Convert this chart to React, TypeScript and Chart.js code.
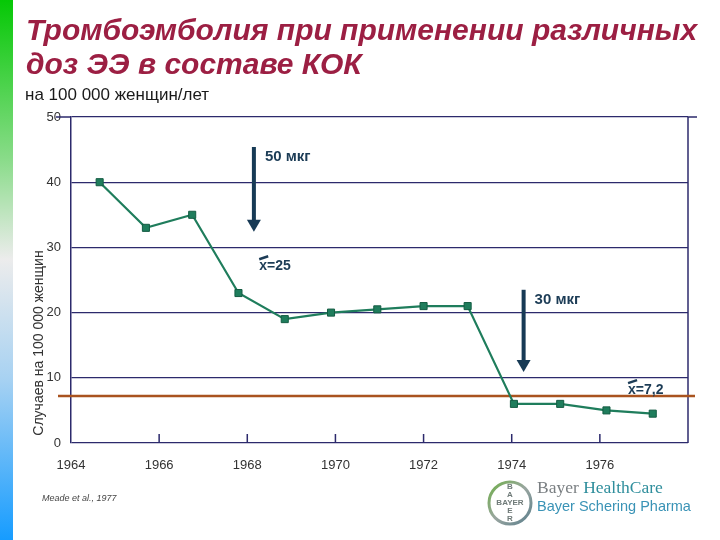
import React, { useEffect, useRef } from "react";
import { Chart, registerables } from "chart.js";

Chart.register(...registerables);

// ---- data ----
const years = [1964.65, 1965.7, 1966.75, 1967.8, 1968.85, 1969.9, 1970.95, 1972.0, 1973.0, 1974.05, 1975.1, 1976.15, 1977.2];
const cases = [40, 33, 35, 23, 19, 20, 20.5, 21, 21, 6, 6, 5, 4.5];
const xTickYears = [1964, 1966, 1968, 1970, 1972, 1974, 1976];
const yTicks = [0, 10, 20, 30, 40, 50];
const meanLevel = 7.2;
const doseLabels = ["50 мкг", "30 мкг"];
const doseYears = [1968.15, 1974.27];
const doseFrom = [45.4, 23.5];
const doseTo = [32.4, 10.9];
const meanLabels = ["x=25", "x=7,2"];
const meanLabelYears = [1968.27, 1976.64];
const meanLabelValues = [27.1, 8.1];

const titleLines = ["Тромбоэмболия при применении различных", "доз ЭЭ в составе КОК"];
const subtitle = "на 100 000 женщин/лет";
const yTitle = "Случаев на 100 000 женщин";
const citation = "Meade et al., 1977";

const NAVY = "#2c2a6c";
const ARROW = "#173a55";
const FONT = "'Liberation Sans', Arial, sans-serif";

const decorPlugin = {
  id: "decor",
  beforeDatasetsDraw(chart: any) {
    const { ctx, chartArea, scales } = chart;
    const xs = scales.x, ys = scales.y;
    ctx.save();
    ctx.strokeStyle = NAVY;
    ctx.lineWidth = 1.5;
    ctx.beginPath();
    ctx.moveTo(chartArea.right, chartArea.top);
    ctx.lineTo(chartArea.right, chartArea.bottom);
    ctx.stroke();
    const yTop = ys.getPixelForValue(50);
    ctx.beginPath();
    ctx.moveTo(chartArea.left - 15, yTop);
    ctx.lineTo(chartArea.left, yTop);
    ctx.moveTo(chartArea.right, yTop);
    ctx.lineTo(chartArea.right + 9, yTop);
    ctx.stroke();
    ctx.beginPath();
    xTickYears.slice(1).forEach((v) => {
      const px = xs.getPixelForValue(v);
      ctx.moveTo(px, chartArea.bottom);
      ctx.lineTo(px, chartArea.bottom - 9);
    });
    ctx.stroke();
    const ym = ys.getPixelForValue(meanLevel);
    ctx.strokeStyle = "#a9531f";
    ctx.lineWidth = 2.5;
    ctx.beginPath();
    ctx.moveTo(chartArea.left - 13, ym);
    ctx.lineTo(chartArea.right + 7, ym);
    ctx.stroke();
    ctx.restore();
  },
  afterDraw(chart: any) {
    const { ctx, scales } = chart;
    const xs = scales.x, ys = scales.y;
    ctx.save();
    const g = ctx.createLinearGradient(0, 0, 0, 540);
    g.addColorStop(0, "#05c805");
    g.addColorStop(0.3, "#8cdc8c");
    g.addColorStop(0.48, "#ececec");
    g.addColorStop(0.7, "#a8d2f2");
    g.addColorStop(1, "#169cff");
    ctx.fillStyle = g;
    ctx.fillRect(0, 0, 13, 540);

    ctx.fillStyle = "#9c1f43";
    ctx.font = `italic bold 30px ${FONT}`;
    ctx.textBaseline = "alphabetic";
    ctx.textAlign = "left";
    ctx.fillText(titleLines[0], 26, 40);
    ctx.fillText(titleLines[1], 26, 74);
    ctx.fillStyle = "#1a1a1a";
    ctx.font = `17px ${FONT}`;
    ctx.fillText(subtitle, 25, 100);

    ctx.save();
    ctx.translate(39, 343);
    ctx.rotate(-Math.PI / 2);
    ctx.textAlign = "center";
    ctx.textBaseline = "middle";
    ctx.fillStyle = "#333";
    ctx.font = `14px ${FONT}`;
    ctx.fillText(yTitle, 0, 0);
    ctx.restore();

    for (let i = 0; i < doseYears.length; i++) {
      const px = xs.getPixelForValue(doseYears[i]);
      const y0 = ys.getPixelForValue(doseFrom[i]);
      const y1 = ys.getPixelForValue(doseTo[i]);
      ctx.fillStyle = ARROW;
      ctx.fillRect(px - 2, y0, 4, y1 - y0 - 10);
      ctx.beginPath();
      ctx.moveTo(px - 7, y1 - 12);
      ctx.lineTo(px + 7, y1 - 12);
      ctx.lineTo(px, y1);
      ctx.closePath();
      ctx.fill();
      ctx.font = `bold 15px ${FONT}`;
      ctx.textAlign = "left";
      ctx.textBaseline = "middle";
      ctx.fillStyle = "#1c3c56";
      ctx.fillText(doseLabels[i], px + 11, y0 + 10);
    }
    for (let i = 0; i < meanLabels.length; i++) {
      const px = xs.getPixelForValue(meanLabelYears[i]);
      const py = ys.getPixelForValue(meanLabelValues[i]);
      ctx.font = `bold 14px ${FONT}`;
      ctx.textAlign = "left";
      ctx.textBaseline = "middle";
      ctx.fillStyle = "#1c3c56";
      ctx.fillText(meanLabels[i], px, py);
      ctx.strokeStyle = "#1c3c56";
      ctx.lineWidth = 2.5;
      ctx.beginPath();
      ctx.moveTo(px, py - 7);
      ctx.lineTo(px + 9, py - 10);
      ctx.stroke();
    }

    ctx.font = `italic 9px ${FONT}`;
    ctx.fillStyle = "#444";
    ctx.textAlign = "left";
    ctx.textBaseline = "alphabetic";
    ctx.fillText(citation, 42, 501);

    const cx = 510, cy = 503, r = 21;
    const rg = ctx.createLinearGradient(cx - r, cy - r, cx + r, cy + r);
    rg.addColorStop(0, "#6fae4a");
    rg.addColorStop(0.5, "#9aa6a0");
    rg.addColorStop(1, "#5c7f8c");
    ctx.strokeStyle = rg;
    ctx.lineWidth = 3;
    ctx.beginPath();
    ctx.arc(cx, cy, r, 0, Math.PI * 2);
    ctx.stroke();
    ctx.fillStyle = "#6f7a78";
    ctx.font = `bold 8px ${FONT}`;
    ctx.textAlign = "center";
    ctx.textBaseline = "middle";
    ctx.fillText("BAYER", cx, cy);
    ["B", "A", "", "E", "R"].forEach((ch, k) => {
      if (ch) ctx.fillText(ch, cx, cy + (k - 2) * 8);
    });
    ctx.textAlign = "left";
    ctx.textBaseline = "alphabetic";
    ctx.font = "17.5px 'Liberation Serif', 'Times New Roman', serif";
    ctx.fillStyle = "#7a7f82";
    ctx.fillText("Bayer ", 537, 493);
    const w = ctx.measureText("Bayer ").width;
    ctx.fillStyle = "#2f8e9c";
    ctx.fillText("HealthCare", 537 + w, 493);
    ctx.font = `14.5px ${FONT}`;
    ctx.fillStyle = "#3a93b6";
    ctx.fillText("Bayer Schering Pharma", 537, 511);
    ctx.restore();
  },
};

export default function App() {
  const ref = useRef<HTMLCanvasElement>(null);
  useEffect(() => {
    if (!ref.current) return;
    const chart = new Chart(ref.current, {
      type: "line",
      data: {
        datasets: [
          {
            data: years.map((x, i) => ({ x, y: cases[i] })),
            borderColor: "#1f7d5c",
            borderWidth: 2.2,
            pointStyle: "rect",
            pointRadius: 5,
            pointBackgroundColor: "#1f7d5c",
            pointBorderColor: "#145c43",
            pointBorderWidth: 1,
            tension: 0,
          },
        ],
      },
      options: {
        animation: false,
        responsive: false,
        layout: { padding: { top: 117, right: 32, left: 0, bottom: 0 } },
        plugins: { legend: { display: false }, tooltip: { enabled: false } },
        scales: {
          x: {
            type: "linear",
            min: 1964,
            max: 1978,
            afterBuildTicks: (s: any) => {
              s.ticks = xTickYears.map((v) => ({ value: v }));
            },
            afterFit: (s: any) => {
              s.height = 97;
            },
            grid: { display: false, drawTicks: false },
            border: { display: false },
            ticks: {
              autoSkip: false,
              maxRotation: 0,
              padding: 15,
              color: "#333",
              font: { family: FONT, size: 13 },
              callback: (v: any) => String(v),
            },
          },
          y: {
            min: 0,
            max: 50,
            afterBuildTicks: (s: any) => {
              s.ticks = yTicks.map((v) => ({ value: v }));
            },
            afterFit: (s: any) => {
              s.width = 71;
            },
            grid: { color: NAVY, lineWidth: 1.3, drawTicks: false },
            border: { display: true, color: NAVY, width: 1.5 },
            ticks: {
              padding: 10,
              color: "#333",
              font: { family: FONT, size: 13 },
            },
          },
        },
      },
      plugins: [decorPlugin],
    } as any);
    return () => chart.destroy();
  }, []);
  return (
    <div style={{ position: "fixed", left: 0, top: 0, width: 720, height: 540, background: "#fff" }}>
      <canvas ref={ref} width={720} height={540} />
    </div>
  );
}
